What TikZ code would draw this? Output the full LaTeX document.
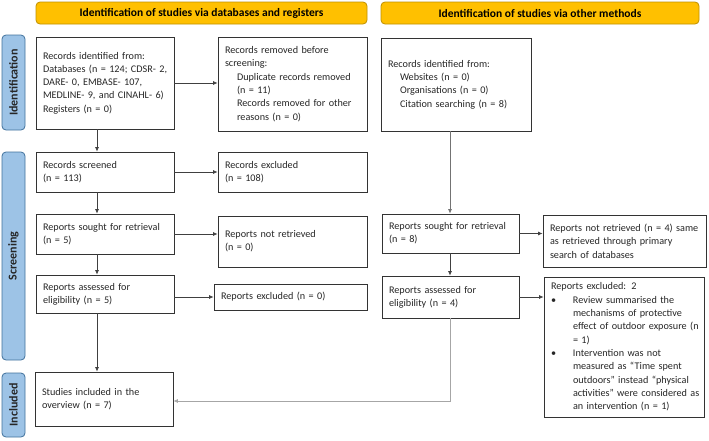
\documentclass[tikz,border=0pt]{standalone}
\usepackage{fontspec}
\setmainfont{Carlito}
\usetikzlibrary{arrows.meta}
\definecolor{gold}{HTML}{FFC000}
\definecolor{golddark}{HTML}{BF9000}
\definecolor{barblue}{HTML}{9DC3E6}
\definecolor{bardark}{HTML}{41719C}
\begin{document}
\begin{tikzpicture}[x=1pt, y=-1pt, >={Latex[length=4.5pt,width=4pt]},
  box/.style={draw=black!80, line width=0.8pt, inner xsep=7pt, inner ysep=2pt, align=left,
    font=\fontsize{10.2}{13.3}\selectfont, text=black!85,
    execute at begin node={\rightskip=0pt plus 1fil minus 15pt}},
  header/.style={draw=golddark, fill=gold, rounded corners=4pt, line width=0.8pt,
    font=\fontsize{11.5}{13}\selectfont\bfseries},
  stage/.style={draw=bardark, fill=barblue, rounded corners=4pt, line width=0.8pt,
    rotate=90, minimum height=23pt, font=\fontsize{12}{13}\selectfont\bfseries, text=black!85},
  link/.style={->, draw=black!75, line width=0.7pt}]
\useasboundingbox (0,0) rectangle (709,440);
\node[header, minimum width=331pt, minimum height=22pt] at (201.5, 13) (dbhead) {Identification of studies via databases and registers};
\node[header, minimum width=318pt, minimum height=22pt] at (540, 13) (othhead) {Identification of studies via other methods};
\node[stage, minimum width=95pt] at (13.5, 82.5) (ident) {Identification};
\node[stage, minimum width=208pt] at (13.5, 256) (screen) {Screening};
\node[stage, minimum width=64pt] at (13.5, 405) (incl) {Included};
% databases and registers
\node[box, minimum width=138pt, minimum height=92pt, text width=124pt] at (105, 83) (recid) {Records identified from:\\Databases (n = 124; CDSR- 2,\\DARE- 0, EMBASE- 107,\\MEDLINE- 9, and CINAHL- 6)\\Registers (n = 0)};
\node[box, minimum width=149pt, minimum height=94pt, text width=135pt] at (292.5, 84) (removed) {Records removed before\\screening:\\\hspace*{12pt}Duplicate records removed\\\hspace*{12pt}(n = 11)\\\hspace*{12pt}Records removed for other\\\hspace*{12pt}reasons (n = 0)};
\node[box, minimum width=138pt, minimum height=40pt, text width=124pt] at (105, 172) (screened) {Records screened\\(n = 113)};
\node[box, minimum width=149pt, minimum height=40pt, text width=135pt] at (292.5, 172) (excluded) {Records excluded\\(n = 108)};
\node[box, minimum width=138pt, minimum height=40pt, text width=124pt] at (105, 234) (sought) {Reports sought for retrieval\\(n = 5)};
\node[box, minimum width=149pt, minimum height=51pt, text width=135pt] at (292.5, 241.5) (notret) {Reports not retrieved\\(n = 0)};
\node[box, minimum width=138pt, minimum height=38pt, text width=124pt] at (105, 294) (assessed) {Reports assessed for\\eligibility (n = 5)};
\node[box, minimum width=153pt, minimum height=26pt, text width=139pt] at (290.5, 297) (repexcl) {Reports excluded (n = 0)};
\node[box, minimum width=138pt, minimum height=54pt, text width=124pt] at (104, 399) (included) {Studies included in the\\overview (n = 7)};
% other methods
\node[box, minimum width=150pt, minimum height=93pt, text width=136pt] at (456, 84.5) (othid) {Records identified from:\\\hspace*{12pt}Websites (n = 0)\\\hspace*{12pt}Organisations (n = 0)\\\hspace*{12pt}Citation searching (n = 8)};
\node[box, minimum width=137pt, minimum height=39pt, text width=123pt] at (450.5, 233.5) (othsought) {Reports sought for retrieval\\(n = 8)};
\node[box, minimum width=163pt, minimum height=52pt, text width=149pt] at (624.5, 241) (othnotret) {Reports not retrieved (n = 4) same\\as retrieved through primary\\search of databases};
\node[box, minimum width=137pt, minimum height=42pt, text width=123pt] at (450.5, 297) (othassessed) {Reports assessed for\\eligibility (n = 4)};
\node[box, minimum width=160pt, minimum height=140pt, text width=146pt] at (624, 347) (othexcl) {Reports excluded: 2\\
\makebox[22pt][l]{\textbullet}Review summarised the\\\hspace*{22pt}mechanisms of protective\\\hspace*{22pt}effect of outdoor exposure (n\\\hspace*{22pt}= 1)\\
\makebox[22pt][l]{\textbullet}Intervention was not\\\hspace*{22pt}measured as “Time spent\\\hspace*{22pt}outdoors” instead “physical\\\hspace*{22pt}activities” were considered as\\\hspace*{22pt}an intervention (n = 1)};
\coordinate (colA) at (97, 0);
\coordinate (colB) at (450, 0);
\coordinate (rowI) at (0, 401);
\draw[link] (recid.south -| colA) -- (screened.north -| colA);
\draw[link] (screened.south -| colA) -- (sought.north -| colA);
\draw[link] (sought.south -| colA) -- (assessed.north -| colA);
\draw[link] (assessed.south -| colA) -- (included.north -| colA);
\draw[link] (recid.east) -- (recid.east -| removed.west);
\draw[link] (screened.east) -- (excluded.west);
\draw[link] (sought.east) -- (sought.east -| notret.west);
\draw[link] (assessed.east |- repexcl.west) -- (repexcl.west);
\draw[link, draw=black!55] (othid.south -| colB) -- (othsought.north -| colB);
\draw[link] (othsought.south -| colB) -- (othassessed.north -| colB);
\draw[link] (othsought.east) -- (othsought.east -| othnotret.west);
\draw[link] (othassessed.east) -- (othassessed.east -| othexcl.west);
\draw[link, draw=black!35] (othassessed.south -| colB) |- (included.east |- rowI);
\end{tikzpicture}
\end{document}
